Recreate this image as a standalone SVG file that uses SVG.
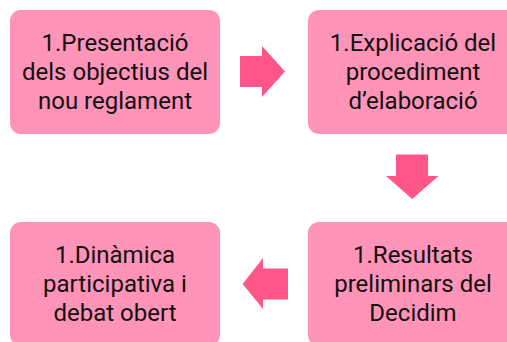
<svg xmlns="http://www.w3.org/2000/svg" width="507" height="342" viewBox="0 0 507 342">
<style>
.box{fill:#FF93B8;}
.arrow{fill:#FF5689;}
text{font-family:Roboto,"Liberation Sans",sans-serif;font-size:24px;fill:#111;text-anchor:middle;}
</style>
<rect width="507" height="342" fill="#fff"/>
<g id="connectors">
<polygon class="arrow" points="240,56 262,56 262,46 285,71.5 262,97 262,87 240,87"/>
<polygon class="arrow" points="396,154.5 428,154.5 428,176 438.5,176 412.2,199 386,176 396,176"/>
<polygon class="arrow" points="288,268.5 263,268.5 263,258 242.7,284 263,309 263,299.5 288,299.5"/>
</g>
<g id="node1">
<rect class="box" x="10" y="10" width="210" height="124" rx="11"/>
<text x="115" y="51">1.Presentació</text>
<text x="115" y="80">dels objectius del</text>
<text x="115" y="108.5">nou reglament</text>
</g>
<g id="node2">
<rect class="box" x="308" y="10" width="210" height="124" rx="11"/>
<text x="413" y="51">1.Explicació del</text>
<text x="413" y="80">procediment</text>
<text x="413" y="108.5">d’elaboració</text>
</g>
<g id="node3">
<rect class="box" x="308" y="222" width="210" height="124" rx="11"/>
<text x="413" y="263">1.Resultats</text>
<text x="413" y="292">preliminars del</text>
<text x="413" y="320.5">Decidim</text>
</g>
<g id="node4">
<rect class="box" x="10" y="222" width="210" height="124" rx="11"/>
<text x="115" y="263">1.Dinàmica</text>
<text x="115" y="292">participativa i</text>
<text x="115" y="320.5">debat obert</text>
</g>
</svg>
